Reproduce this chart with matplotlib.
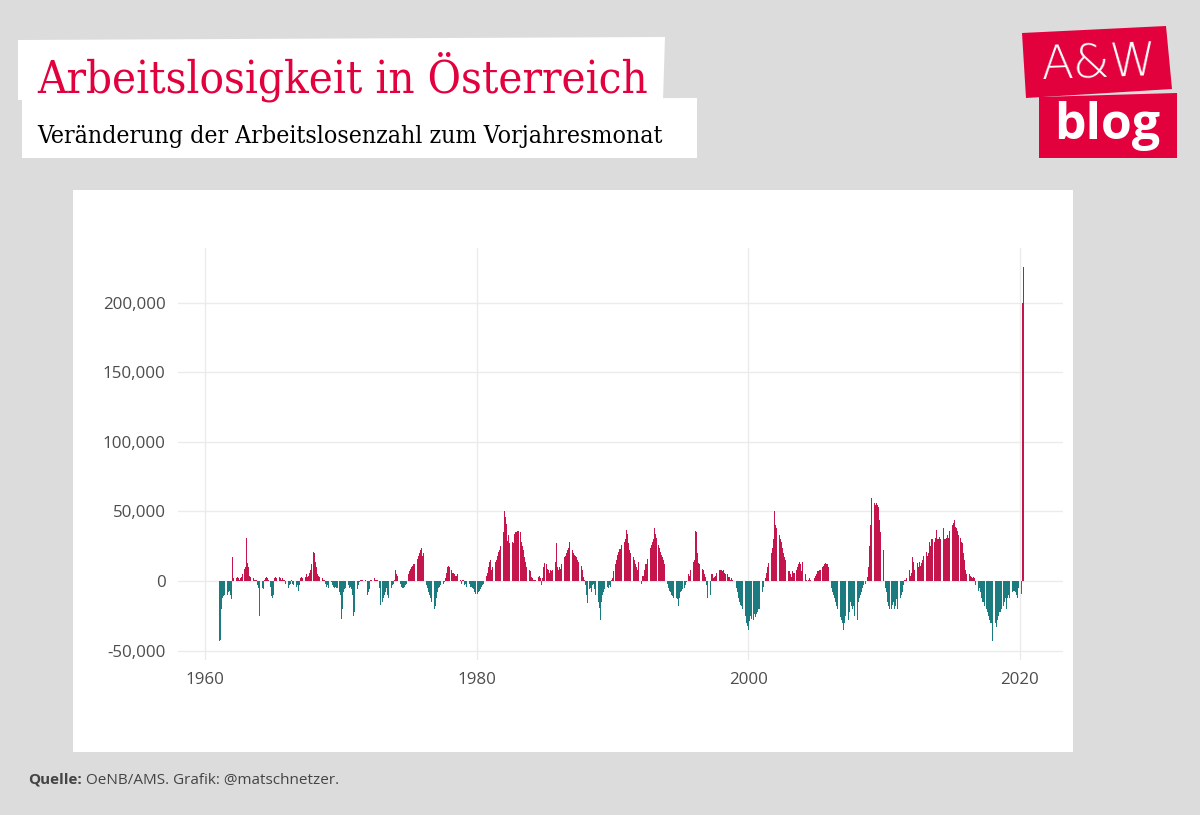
import matplotlib
matplotlib.use("Agg")
import matplotlib.pyplot as plt
from matplotlib.patches import Polygon
from matplotlib.ticker import FuncFormatter

# Daten: Veraenderung der Arbeitslosenzahl zum Vorjahresmonat (in Tausend)
start_year = 1961
changes_k = [
    -43, -42, -20, -12, -11, -10, -9, -10, -8, -7, -10, -13,    # 1961
    17, 2, 1, 2, 3, 2, 1, 2, 3, 5, 9, 10,                       # 1962
    31, 13, 10, 4, 3, 2, 2, 1, 1, 1, -3, -5,                    # 1963
    -25, -8, -5, -6, 1, 2, 3, 2, 1, -4, -11, -12,               # 1964
    -10, 2, 3, 2, 2, 3, 2, 1, 2, 1, 1, -2,                      # 1965
    -24, -5, -3, -2, 1, -2, -3, -1, -4, -3, -7, -3,             # 1966
    2, 3, 2, 4, 3, 5, 3, 4, 6, 8, 12, 21,                       # 1967
    20, 14, 10, 5, 4, 3, 2, 2, 1, 1, -2, -4,                    # 1968
    -3, -5, -2, -1, -3, -4, -5, -4, -5, -5, -8, -10,            # 1969
    -27, -20, -8, -6, -5, -6, -3, -5, -4, -6, -10, -25,         # 1970
    -22, -15, -6, -3, -1, 1, 1, 1, -1, 1, 0, -10,               # 1971
    -8, -6, 1, 1, 1, 2, 1, 1, 1, 0, -5, -17,                    # 1972
    -15, -12, -10, -8, -5, -10, -12, -8, -5, -3, -2, 1,         # 1973
    8, 5, 4, 2, -2, -4, -5, -5, -4, -3, -2, 5,                  # 1974
    7, 9, 10, 11, 12, 12, 14, 16, 18, 20, 22, 24,               # 1975
    18, 20, 15, -3, -5, -8, -10, -12, -15, -18, -20, -18,       # 1976
    -12, -8, -5, -4, -3, -3, -2, -1, 2, 6, 10, 11,              # 1977
    10, 8, 6, 6, 5, 4, 4, 5, 3, 1, -2, 1,                       # 1978
    1, -3, -2, -4, -3, -2, -4, -4, -5, -6, -8, -9,              # 1979
    -9, -8, -7, -6, -4, -3, -2, -1, 4, 6, 10, 14,               # 1980
    15, 8, 10, 12, 14, 15, 18, 21, 22, 25, 29, 35,              # 1981
    50, 46, 41, 29, 33, 27, 27, 28, 27, 34, 35, 35,             # 1982
    36, 36, 35, 28, 25, 22, 17, 14, 10, 9, 8, 7,                # 1983
    3, 2, 1, 1, 1, 2, 3, 4, 2, -3, 2, 10,                       # 1984
    13, 12, 9, 8, 6, 8, 7, 8, 12, 14, 27, 10,                   # 1985
    8, 10, 9, 12, 15, 17, 18, 20, 22, 24, 28, 22,               # 1986
    22, 20, 19, 18, 17, 15, 14, 12, 11, 8, 3, 1,                # 1987
    -3, -10, -16, -6, -5, -8, -3, -2, -6, -10, -12, -15,        # 1988
    -19, -28, -15, -10, -8, -6, -5, -4, -5, -3, -4, 1,          # 1989
    2, 7, 12, 15, 19, 21, 23, 23, 26, 24, 28, 30,               # 1990
    37, 34, 27, 22, 20, 18, 17, 15, 12, 10, 8, 14,              # 1991
    3, -2, 4, 4, 8, 12, 12, 16, 20, 24, 26, 28,                 # 1992
    30, 38, 34, 31, 26, 24, 21, 19, 17, 15, 12, 10,             # 1993
    -2, -5, -7, -8, -10, -11, -12, -14, -12, -13, -18, -12,     # 1994
    -8, -7, -6, -5, -3, -1, 0, 5, 4, 8, 12, 14,                 # 1995
    15, 36, 35, 20, 13, 12, 10, 9, 8, 5, 3, -3,                 # 1996
    -12, -14, -10, 5, 5, 2, 3, 4, 6, 7, 8, 8,                   # 1997
    8, 7, 8, 6, 5, 5, 3, 3, 1, 2, 1, 0,                         # 1998
    -3, -5, -8, -12, -15, -17, -18, -20, -22, -25, -30, -32,    # 1999
    -35, -29, -25, -27, -28, -24, -26, -24, -22, -20, -20, -15, # 2000
    -8, -4, 0, 2, 6, 10, 13, 15, 20, 24, 30, 50,                # 2001
    40, 38, 36, 33, 30, 28, 24, 20, 17, 15, 10, 7,              # 2002
    7, 5, 3, 7, 6, 6, 8, 10, 12, 14, 12, 7,                     # 2003
    14, 8, 5, 1, 0, 1, 2, 1, 0, -2, 2, 4,                       # 2004
    5, 7, 7, 8, 8, 10, 11, 12, 13, 12, 12, 10,                  # 2005
    5, -5, -8, -10, -12, -15, -18, -20, -22, -26, -28, -30,     # 2006
    -35, -30, -25, -26, -28, -22, -15, -18, -20, -18, -25, -33, # 2007
    -28, -15, -12, -10, -8, -5, -3, -2, 0, 3, 10, 25,           # 2008
    40, 60, 58, 56, 55, 56, 55, 53, 44, 35, 22, 22,             # 2009
    0, -5, -8, -15, -18, -20, -20, -17, -15, -20, -18, -13,     # 2010
    -20, -15, -12, -10, -8, -3, 1, 1, 2, 6, 8, 4,               # 2011
    6, 17, 14, 8, 12, 13, 10, 14, 11, 13, 15, 18,               # 2012
    14, 21, 18, 20, 28, 25, 30, 30, 28, 31, 37, 30,             # 2013
    30, 32, 30, 31, 38, 30, 30, 31, 33, 31, 36, 38,             # 2014
    40, 42, 44, 39, 38, 36, 33, 31, 28, 27, 20, 15,             # 2015
    8, 5, 7, 5, 4, 3, 2, 3, 2, -3, -5, -7,                      # 2016
    -5, -8, -12, -15, -15, -18, -20, -22, -25, -28, -30, -30,   # 2017
    -43, -32, -30, -33, -28, -25, -22, -22, -20, -18, -15, -12, # 2018
    -20, -12, -10, -12, -10, -8, -7, -7, -8, -10, -12, -5,      # 2019
    -5, -9, 200, 226,                                           # 2020
]

x_ticks = [1960, 1980, 2000, 2020]
y_ticks = [-50000, 0, 50000, 100000, 150000, 200000]

title = "Arbeitslosigkeit in Österreich"
subtitle = "Veränderung der Arbeitslosenzahl zum Vorjahresmonat"
source_bold = "Quelle:"
source_rest = " OeNB/AMS. Grafik: @matschnetzer."

red = "#C4164C"
teal = "#1B7B7F"
brand = "#E2003D"

W, H = 1200, 815


def P(x, y):
    # Pixel (von oben links) -> Figure-Koordinaten
    return (x / W, 1 - y / H)


def fit(t, width_px, renderer):
    bb = t.get_window_extent(renderer)
    t.set_fontsize(t.get_fontsize() * width_px / bb.width)


fig = plt.figure(figsize=(12, 8.15), dpi=100, facecolor="#DCDCDC")
renderer = fig.canvas.get_renderer()

# weisses Panel
fig.patches.append(Polygon([P(73, 190), P(1073, 190), P(1073, 752), P(73, 752)],
                           closed=True, transform=fig.transFigure,
                           facecolor="white", edgecolor="none", zorder=-1))

# Titelboxen
fig.patches.append(Polygon([P(18, 40), P(665, 37), P(663, 100), P(18, 100)],
                           closed=True, transform=fig.transFigure,
                           facecolor="white", edgecolor="none", zorder=-1))
fig.patches.append(Polygon([P(22, 100), P(697, 98), P(697, 158), P(22, 158)],
                           closed=True, transform=fig.transFigure,
                           facecolor="white", edgecolor="none", zorder=-1))

t1 = fig.text(*P(37, 92), title, family="DejaVu Serif", fontstretch="condensed",
              color=brand, fontsize=30, va="baseline", ha="left")
fit(t1, 611, renderer)
t2 = fig.text(*P(37, 143), subtitle, family="DejaVu Serif", fontstretch="condensed",
              color="black", fontsize=16, va="baseline", ha="left")
fit(t2, 626, renderer)

# Logo
fig.patches.append(Polygon([P(1022, 33), P(1166, 26), P(1172, 89), P(1026, 98)],
                           closed=True, transform=fig.transFigure,
                           facecolor=brand, edgecolor="none", zorder=-1))
fig.patches.append(Polygon([P(1039, 97), P(1177, 93), P(1177, 158), P(1039, 158)],
                           closed=True, transform=fig.transFigure,
                           facecolor=brand, edgecolor="none", zorder=-1))
fig.text(*P(1099, 64), "A&W", family="DejaVu Sans", weight="light", color="white",
         fontsize=34, ha="center", va="center", rotation=2)
fig.text(*P(1107, 126), "blog", family="Open Sans", weight="bold", color="white",
         fontsize=36, ha="center", va="center")

# Quelle
s1 = fig.text(*P(28, 784), source_bold, family="Open Sans", weight="bold",
              color="#444444", fontsize=11, va="baseline", ha="left")
bb = s1.get_window_extent(renderer)
fig.text(bb.x1 / W, 1 - 784 / H, source_rest, family="Open Sans",
         color="#444444", fontsize=11, va="baseline", ha="left")

# Diagramm
ax = fig.add_axes([178 / W, 1 - 660 / H, (1063 - 178) / W, (660 - 248) / H])
ax.set_facecolor("none")

xs = [start_year + i / 12 for i in range(len(changes_k))]
vals = [v * 1000 for v in changes_k]
cols = [red if v > 0 else teal for v in vals]
ax.bar(xs, vals, width=0.8 / 12, color=cols, linewidth=0, align="edge", zorder=3)

ax.set_xlim(1958.0, 2023.2)
ax.set_ylim(-56700, 239300)
ax.set_xticks(x_ticks)
ax.set_yticks(y_ticks)
ax.yaxis.set_major_formatter(FuncFormatter(lambda v, p: f"{int(v):,}"))
ax.grid(True, color="#EBEBEB", linewidth=1, zorder=0)
for s in ax.spines.values():
    s.set_visible(False)
ax.tick_params(length=0, labelsize=12.2, labelcolor="#4D4D4D", pad=9)
for lab in ax.get_xticklabels() + ax.get_yticklabels():
    lab.set_family("Open Sans")

fig.savefig("out.png", dpi=100, facecolor=fig.get_facecolor())
